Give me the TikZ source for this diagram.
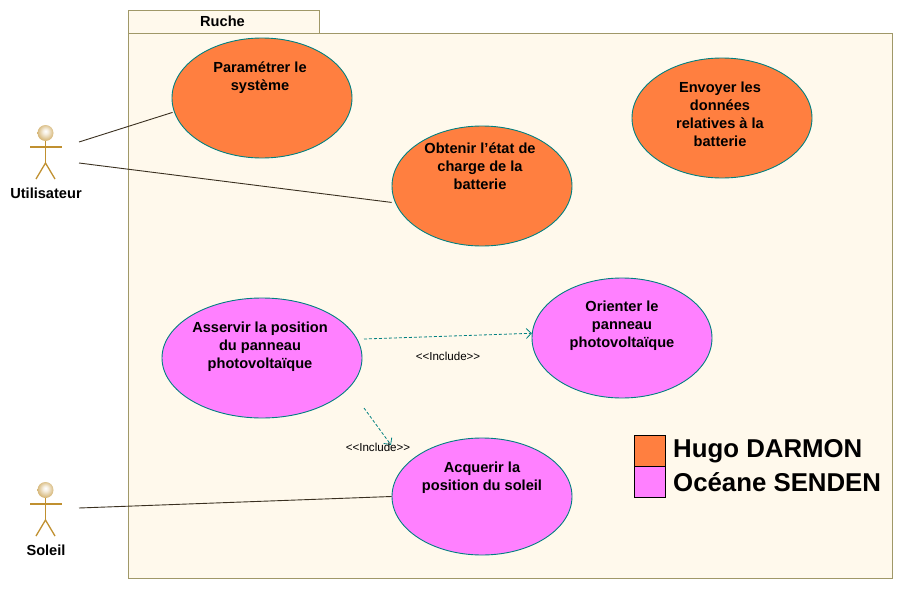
\documentclass[tikz,border=0pt]{standalone}
\usepackage{fontspec}
\setmainfont{Liberation Sans}
\usetikzlibrary{shapes.geometric,arrows.meta}

\definecolor{casse}{HTML}{FF7F40}
\definecolor{rose}{HTML}{FF80FF}
\definecolor{fond}{HTML}{FFF9EC}
\definecolor{bord}{HTML}{A09868}
\definecolor{sarcelle}{HTML}{008080}
\definecolor{acteur}{HTML}{C09030}
\definecolor{trait}{HTML}{3A3020}

\pgfdeclareradialshading{headball}{\pgfpoint{0bp}{6bp}}{
    color(0bp)=(white);
    color(8bp)=(white!85!acteur);
    color(24bp)=(white!40!acteur);
    color(40bp)=(acteur);
    color(50bp)=(acteur)
}

\tikzset{
    usecase/.style={ellipse,draw=sarcelle,line width=0.9pt,inner sep=0pt,minimum width=180pt,minimum height=120pt},
    casetext/.style={align=center,font=\fontsize{14.6}{18}\selectfont\bfseries},
    pkgbox/.style={rectangle,draw=bord,fill=fond,line width=1pt,inner sep=0pt},
    head/.style={circle,shading=headball,inner sep=0pt,minimum size=16pt},
    limb/.style={draw=acteur,line width=1.3pt},
    assoc/.style={draw=trait,line width=0.9pt},
    incl/.style={draw=sarcelle,line width=0.8pt,densely dashed,-{Straight Barb[length=5pt,width=10pt]}},
    stereo/.style={font=\fontsize{11.6}{14}\selectfont},
    legendbox/.style={rectangle,draw=black,line width=1pt,inner sep=0pt,minimum size=31pt},
    legendtext/.style={anchor=west,inner sep=0pt,font=\fontsize{25.8}{30}\selectfont\bfseries}
}

\begin{document}
\begin{tikzpicture}[x=1pt,y=-1pt]

    \useasboundingbox (0,0) rectangle (903,589);

    % Paquetage
    \node[pkgbox,minimum width=191pt,minimum height=23pt,font=\fontsize{14.6}{16}\selectfont\bfseries,text depth=0pt] (ruchetab) at (223.5,21.5) {\hspace{-2pt}Ruche};
    \node[pkgbox,minimum width=764pt,minimum height=545pt] (ruche) at (510,305.5) {};

    % Cas d'utilisation
    \node[usecase,fill=casse] (param) at (262,98) {};
    \node[usecase,fill=casse] (etat) at (482,186) {};
    \node[usecase,fill=casse] (envoi) at (722,118) {};
    \node[usecase,fill=rose,minimum width=200pt] (asservir) at (262,358) {};
    \node[usecase,fill=rose] (orienter) at (622,338) {};
    \node[usecase,fill=rose,minimum height=117pt] (acquerir) at (482,496.5) {};

    % Textes des cas
    \node[casetext] (paramtxt) at (260,77.5) {Paramétrer le\\système};
    \node[casetext] (etattxt) at (480,166.5) {Obtenir l\symbol{39}état de\\charge de la\\batterie};
    \node[casetext] (envoitxt) at (720,114.5) {Envoyer les\\données\\relatives à la\\batterie};
    \node[casetext] (asservirtxt) at (260,346.5) {Asservir la position\\du panneau\\photovoltaïque};
    \node[casetext] (orientertxt) at (622,326) {Orienter le\\panneau\\photovoltaïque};
    \node[casetext] (acquerirtxt) at (482,477.5) {Acquerir la\\position du soleil};

    % Acteur Utilisateur
    \node[head] (utilhead) at (45.5,133) {};
    \coordinate (utilhip) at (45.5,163);
    \draw[limb] (utilhead) -- (utilhip);
    \draw[limb] (30,147) -- (62,147);
    \draw[limb] (36,179) -- (utilhip) -- (55,179);
    \node[casetext] (util) at (46,193.5) {Utilisateur};

    % Acteur Soleil
    \node[head] (solhead) at (45.5,490) {};
    \coordinate (solhip) at (45.5,520);
    \draw[limb] (solhead) -- (solhip);
    \draw[limb] (30,504) -- (62,504);
    \draw[limb] (36,536) -- (solhip) -- (55,536);
    \node[casetext] (sol) at (46,550) {Soleil};

    % Associations
    \coordinate (utila) at (79,142);
    \coordinate (utilb) at (79,163);
    \coordinate (sola) at (79,508);
    \draw[assoc,shorten >=1.5pt] (utila) -- (param.189);
    \draw[assoc,shorten >=3.5pt] (utilb) -- (etat.191);
    \draw[assoc] (sola) -- (acquerir.west);

    % Include
    \coordinate (asserva) at (364,339);
    \coordinate (asservb) at (364,408);
    \coordinate (acqtop) at (391,445);
    \draw[incl] (asserva) -- (orienter.177);
    \draw[incl] (asservb) -- (acqtop);
    \node[stereo] (inclA) at (448,356.5) {{<}{<}Include{>}{>}};
    \node[stereo] (inclB) at (378,447.5) {{<}{<}Include{>}{>}};

    % Legende
    \node[legendbox,fill=casse] (legA) at (650,450.5) {};
    \node[legendbox,fill=rose] (legB) at (650,481.5) {};
    \node[legendtext] (legAtxt) at (673,451) {Hugo DARMON};
    \node[legendtext] (legBtxt) at (673,482) {Océane SENDEN};

\end{tikzpicture}
\end{document}
